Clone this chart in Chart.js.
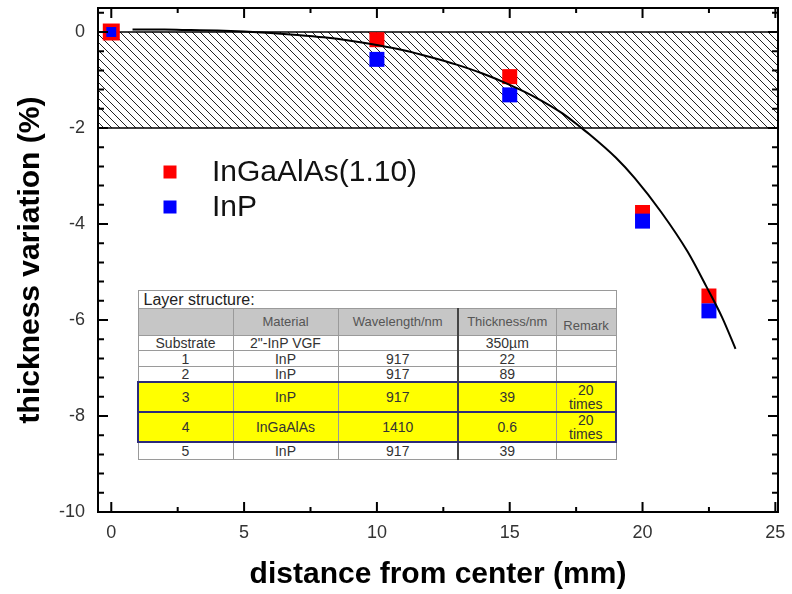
<!DOCTYPE html>
<html>
<head>
<meta charset="utf-8">
<script src="https://cdn.jsdelivr.net/npm/chart.js@4.4.0/dist/chart.umd.min.js"></script>
<style>
  body { margin: 0; background: #fff; }
  #wrap { position: relative; width: 792px; height: 594px; }
  #inset { position: absolute; left: 137px; top: 290px; width: 478px; }
  #inset table { border-collapse: collapse; width: 478px; table-layout: fixed;
    font-family: 'Liberation Sans', Arial, sans-serif; color: #333; background: #fff; }
  #inset td { border: 1px solid #9a9a9a; text-align: center; padding: 0; font-size: 14px; line-height: 14px; overflow: hidden; white-space: nowrap; }
  #inset tr.cap td { text-align: left; font-size: 16px; color: #222; padding-left: 5px; }
  #inset tr.head td { background: #c6c6c6; color: #555; font-size: 13px; }
  #inset tr.head td.remark { vertical-align: bottom; padding-bottom: 2px; }
  #inset tr.hl td { background: #ffff00; border-top: 2px solid #2b2b7a; border-bottom: 2px solid #2b2b7a; white-space: normal; }
  #inset tr.hl td:first-child { border-left: 2px solid #2b2b7a; }
  #inset tr.hl td:last-child { border-right: 2px solid #2b2b7a; }
  #inset td.c4 { border-left: 2px solid #444; }
</style>
</head>
<body>
<div id="wrap">
  <canvas id="chart" width="792" height="594"></canvas>
  <div id="inset"></div>
</div>
<script>
// measured points
const distance = [0, 10, 15, 20, 22.5];
const inGaAlAs = [0, -0.16, -0.93, -3.76, -5.5];
const inP = [0, -0.57, -1.31, -3.94, -5.81];

// fitted curve
const fitX = [0.8, 2, 3, 4, 5, 6, 7, 8, 9, 10, 11, 12, 13, 14, 15, 16, 17, 17.7, 18, 19, 19.7, 20.7, 21.7, 22.4, 23, 23.5];
const fitY = [0.05, 0.05, 0.04, 0.03, 0.01, -0.02, -0.06, -0.11, -0.18, -0.27, -0.38, -0.52, -0.68, -0.87, -1.1, -1.37, -1.7, -2.0, -2.13, -2.62, -3.04, -3.75, -4.58, -5.3, -5.95, -6.6];

// tolerance band (%)
const bandLimits = [0, -2];

// axes
const xMin = -0.5, xMax = 25.1;
const yMin = -10, yMax = 0.5;
const xTicks = [0, 5, 10, 15, 20, 25];
const yTicks = [0, -2, -4, -6, -8, -10];
const xSub = 2, ySub = 5;

// inset table
const layerIds = ['Substrate', '1', '2', '3', '4', '5'];
const materials = ['2"-InP VGF', 'InP', 'InP', 'InP', 'InGaAlAs', 'InP'];
const wavelengths = ['', '917', '917', '917', '1410', '917'];
const thicknesses = ['350\u00b5m', '22', '89', '39', '0.6', '39'];
const remarks = ['', '', '', '20 times', '20 times', ''];
const tableHeader = ['', 'Material', 'Wavelength/nm', 'Thickness/nm', 'Remark'];
const rowHeights = [18, 27, 15, 16, 15, 30, 29, 17];
const colWidths = [95, 105, 120, 98, 60];

function buildTable() {
    let html = '<table><colgroup>' + colWidths.map(w => `<col style="width:${w}px">`).join('') + '</colgroup>';
    html += `<tr class="cap" style="height:${rowHeights[0]}px"><td colspan="5">Layer structure:</td></tr>`;
    html += `<tr class="head" style="height:${rowHeights[1]}px">` + tableHeader.map((h, i) =>
        `<td class="${i === 3 ? 'c4' : ''} ${i === 4 ? 'remark' : ''}">${h}</td>`).join('') + '</tr>';
    layerIds.forEach((id, r) => {
        const hl = remarks[r] ? 'hl' : '';
        const cells = [id, materials[r], wavelengths[r], thicknesses[r], remarks[r].replace(' ', '<br>')];
        html += `<tr class="${hl}" style="height:${rowHeights[r + 2]}px">` + cells.map((c, i) =>
            `<td class="${i === 3 ? 'c4' : ''}">${c}</td>`).join('') + '</tr>';
    });
    html += '</table>';
    document.getElementById('inset').innerHTML = html;
}
buildTable();

function hatchPattern() {
    const s = 8;
    const c = document.createElement('canvas');
    c.width = s; c.height = s;
    const g = c.getContext('2d');
    g.strokeStyle = '#222';
    g.lineWidth = 1;
    g.beginPath();
    for (const k of [-s, 0, s]) {
        g.moveTo(k, 0);
        g.lineTo(k + s, s);
    }
    g.stroke();
    return g.createPattern(c, 'repeat');
}

const frame = {
    id: 'frame',
    afterDatasetsDraw(chart) {
        const { ctx, chartArea: a, scales: { x, y } } = chart;
        ctx.save();
        ctx.strokeStyle = '#000';
        ctx.lineWidth = 2;
        ctx.beginPath();
        const xStep = (xTicks[1] - xTicks[0]) / xSub;
        for (let i = 0; ; i++) {
            const v = Math.min(...xTicks) + i * xStep;
            if (v > x.max + 1e-9) break;
            const px = x.getPixelForValue(v);
            const len = i % xSub === 0 ? 10 : 5;
            ctx.moveTo(px, a.bottom); ctx.lineTo(px, a.bottom - len);
            ctx.moveTo(px, a.top); ctx.lineTo(px, a.top + len);
        }
        const yStep = Math.abs(yTicks[1] - yTicks[0]) / ySub;
        for (let i = 0; ; i++) {
            const v = Math.min(...yTicks) + i * yStep;
            if (v > y.max + 1e-9) break;
            const py = y.getPixelForValue(v);
            const len = i % ySub === 0 ? 10 : 6;
            ctx.moveTo(a.left, py); ctx.lineTo(a.left + len, py);
            ctx.moveTo(a.right, py); ctx.lineTo(a.right - len, py);
        }
        ctx.stroke();
        ctx.strokeRect(a.left, a.top, a.right - a.left, a.bottom - a.top);
        ctx.restore();
    }
};

const insetLegend = {
    id: 'insetLegend',
    afterDatasetsDraw(chart) {
        const { ctx, chartArea: a } = chart;
        const items = chart.data.datasets.filter(d => d.inLegend);
        ctx.save();
        ctx.font = "30px 'Liberation Sans', Arial, sans-serif";
        ctx.textBaseline = 'middle';
        items.forEach((d, i) => {
            const cx = a.left + 72, cy = a.top + 164 + i * 35;
            ctx.fillStyle = d.backgroundColor;
            ctx.fillRect(cx - 6.5, cy - 6.5, 13, 13);
            ctx.fillStyle = '#111';
            ctx.fillText(d.label, cx + 42, cy + 1);
        });
        ctx.restore();
    }
};

const toPoints = (xs, ys) => xs.map((x, i) => ({ x, y: ys[i] }));
const tickFont = { family: "'Liberation Sans', Arial, sans-serif", size: 18 };
const titleFont = { family: "'Liberation Sans', Arial, sans-serif", size: 30, weight: 'bold', lineHeight: 1 };

new Chart(document.getElementById('chart'), {
    type: 'scatter',
    data: {
        datasets: [
            {
                label: 'band',
                data: [{ x: xMin, y: bandLimits[0] }, { x: xMax, y: bandLimits[0] }],
                showLine: true, pointRadius: 0, borderColor: '#000', borderWidth: 1.5,
                backgroundColor: hatchPattern(), fill: '+1', order: 4
            },
            {
                label: 'band low',
                data: [{ x: xMin, y: bandLimits[1] }, { x: xMax, y: bandLimits[1] }],
                showLine: true, pointRadius: 0, borderColor: '#000', borderWidth: 1.5,
                fill: false, order: 3
            },
            {
                label: 'InGaAlAs(1.10)', inLegend: true,
                data: toPoints(distance, inGaAlAs),
                pointStyle: 'rect', backgroundColor: '#ff0000', borderWidth: 0,
                pointRadius: ctx => ctx.dataIndex === 0 ? 12 : 10.6, order: 2
            },
            {
                label: 'InP', inLegend: true,
                data: toPoints(distance, inP),
                pointStyle: 'rect', backgroundColor: '#0000ff', borderWidth: 0,
                pointRadius: ctx => ctx.dataIndex === 0 ? 7 : 10.6, order: 1
            },
            {
                label: 'fit',
                data: toPoints(fitX, fitY),
                showLine: true, pointRadius: 0, borderColor: '#000', borderWidth: 2,
                cubicInterpolationMode: 'monotone', fill: false, order: 0
            }
        ]
    },
    options: {
        responsive: false,
        animation: false,
        layout: { autoPadding: false, padding: { left: 0, right: 14, top: 8, bottom: 0 } },
        plugins: { legend: { display: false }, tooltip: { enabled: false } },
        scales: {
            x: {
                type: 'linear', min: xMin, max: xMax,
                afterBuildTicks: s => { s.ticks = xTicks.map(value => ({ value })); },
                afterFit: s => { s.height = 82; s.paddingLeft = 0; s.paddingRight = 0; },
                grid: { display: false, drawTicks: false },
                border: { display: false },
                ticks: { font: tickFont, color: '#333', padding: 10, autoSkip: false, maxRotation: 0 },
                title: { display: true, text: 'distance from center (mm)', font: titleFont, color: '#000', padding: { top: 0, bottom: 4 } }
            },
            y: {
                type: 'linear', min: yMin, max: yMax,
                afterBuildTicks: s => { s.ticks = yTicks.map(value => ({ value })); },
                afterFit: s => { s.width = 98; s.paddingTop = 0; s.paddingBottom = 0; },
                grid: { display: false, drawTicks: false },
                border: { display: false },
                ticks: { font: tickFont, color: '#333', padding: 13, autoSkip: false },
                title: { display: true, text: 'thickness variation (%)', font: titleFont, color: '#000', padding: { top: 16, bottom: 0 } }
            }
        }
    },
    plugins: [frame, insetLegend]
});
</script>
</body>
</html>
